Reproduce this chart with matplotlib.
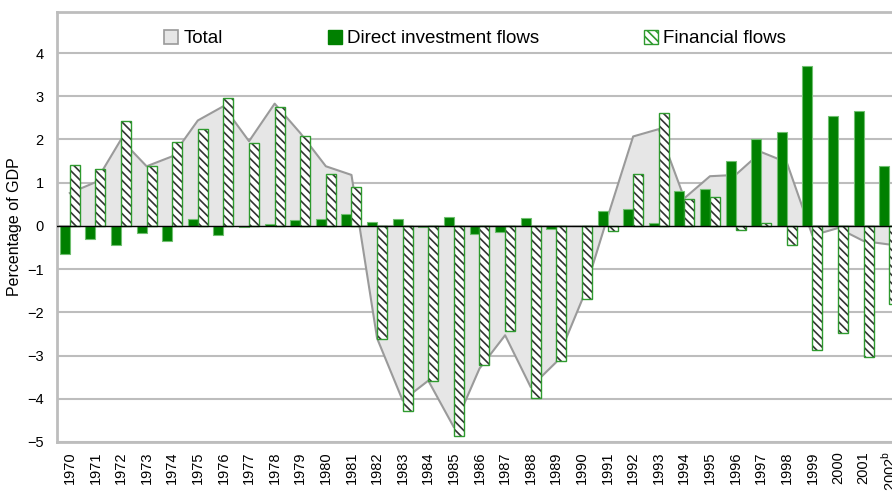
import numpy as np
import matplotlib
matplotlib.use("Agg")
import matplotlib.pyplot as plt
from matplotlib.patches import Patch

plt.rcParams['font.family'] = ['Liberation Sans', 'DejaVu Sans']
plt.rcParams['mathtext.fontset'] = 'custom'
plt.rcParams['mathtext.rm'] = 'Liberation Sans'

years = [str(y) for y in range(1970, 2002)] + ['2002$^{\\mathrm{b}}$']

direct = [-0.65, -0.30, -0.43, -0.16, -0.36, 0.16, -0.22, -0.02, 0.05, 0.14,
          0.16, 0.27, 0.10, 0.15, -0.02, 0.21, -0.19, -0.13, 0.18, -0.08,
          -0.01, 0.35, 0.40, 0.07, 0.81, 0.86, 1.50, 2.00, 2.18, 3.71,
          2.54, 2.65, 1.38]

financial = [1.40, 1.32, 2.43, 1.39, 1.95, 2.24, 2.97, 1.92, 2.76, 2.08,
             1.21, 0.90, -2.61, -4.29, -3.58, -4.87, -3.22, -2.42, -3.98, -3.12,
             -1.68, -0.12, 1.20, 2.62, 0.62, 0.68, -0.09, 0.06, -0.44, -2.88,
             -2.48, -3.03, -1.81]

total = [0.76, 1.01, 2.00, 1.38, 1.61, 2.44, 2.77, 1.96, 2.83, 2.15,
         1.38, 1.18, -2.60, -4.04, -3.58, -4.66, -3.30, -2.53, -3.73, -3.15,
         -1.72, 0.20, 2.07, 2.24, 0.64, 1.15, 1.18, 1.71, 1.47, -0.22,
         -0.05, -0.35, -0.43]

x = np.arange(len(years))
w = 0.39
grid_c = '#bdbdbd'
green = '#008000'

fig = plt.figure(figsize=(8.92, 4.91), dpi=100)
ax = fig.add_axes([57 / 892, 49 / 491, 845 / 892, 430 / 491])

# total as shaded area
ax.fill_between(x, 0, total, color='#e6e6e6', zorder=2, linewidth=0)
ax.plot(x, total, color='#9a9a9a', lw=1.5, zorder=2.5)

# direct investment bars
ax.bar(x - w / 2, direct, w, color=green, edgecolor='#6fbf6f', linewidth=0.8, zorder=3)

# financial flows: hatched white bars with green outline
plt.rcParams['hatch.linewidth'] = 1.2
ax.bar(x + w / 2, financial, w, color='white', edgecolor='#333333', hatch='\\\\\\\\',
       linewidth=0, zorder=3)
ax.bar(x + w / 2, financial, w, fill=False, edgecolor='#2e9a2e', linewidth=1.0, zorder=3.2)

ax.axhline(0, color='black', lw=1.0, zorder=4)

ax.set_xlim(-0.5, len(years) - 0.5)
ax.set_ylim(-5, 4.95)
ax.set_yticks(range(-5, 5))
ax.set_xticks(x)
ax.set_xticklabels(years, rotation=90)
ax.tick_params(axis='both', length=0, labelsize=10.5)
ax.tick_params(axis='y', pad=9.5)
ax.tick_params(axis='x', pad=6.5)
ax.yaxis.grid(True, color=grid_c, lw=1.5, zorder=0)
ax.set_axisbelow(True)
for s in ['left', 'bottom', 'top', 'right']:
    ax.spines[s].set_color(grid_c)
    ax.spines[s].set_linewidth(2)

ax.set_ylabel('Percentage of GDP', fontsize=11.5, labelpad=4)

handles = [
    Patch(facecolor='#e6e6e6', edgecolor='#9a9a9a', linewidth=1.2, label='Total'),
    Patch(facecolor=green, edgecolor=green, label='Direct investment flows'),
    Patch(facecolor='white', edgecolor='#2e9a2e', hatch='\\\\\\\\', label='Financial flows'),
]
ax.legend(handles=handles, loc='upper center', bbox_to_anchor=(0.495, 1.0), ncol=3,
          frameon=False, fontsize=13.5, handlelength=0.75, handleheight=0.75,
          handletextpad=0.27, columnspacing=5.6, borderaxespad=0.55)

fig.savefig('out.png', dpi=100)
